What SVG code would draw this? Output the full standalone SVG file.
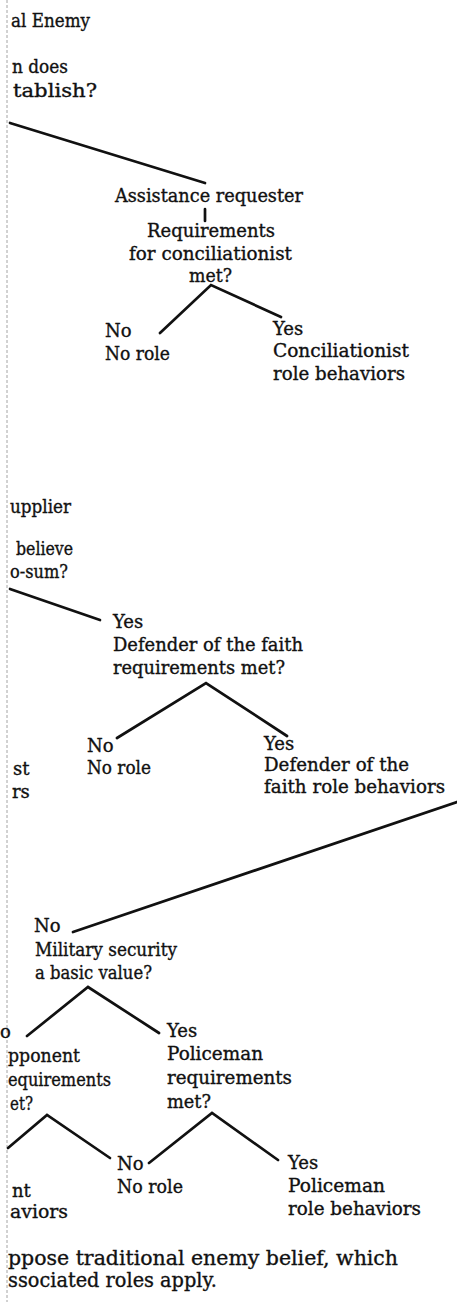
<svg xmlns="http://www.w3.org/2000/svg" width="457" height="1302" viewBox="0 0 457 1302">
<style>
.t{font-family:"DejaVu Serif","Liberation Serif",serif;font-size:18px;fill:#111;stroke:#111;stroke-width:0.35}
.c{font-size:20px}
.e{stroke:#111;stroke-width:2.7;fill:none;stroke-linecap:round;stroke-linejoin:miter}
.g{stroke:#9a9a9a;stroke-width:0.9;stroke-dasharray:3 2;fill:none}
</style>
<rect width="457" height="1302" fill="#fff"/>
<line class="g" x1="7" y1="0" x2="7" y2="1302"/>
<g id="connectors">
<path class="e" d="M10,123 L205,183"/>
<path class="e" d="M205,209 L205,221"/>
<path class="e" d="M160,333 L211,285 L281,317"/>
<path class="e" d="M10,589 L100,620"/>
<path class="e" d="M117,738 L206,683 L287,736"/>
<path class="e" d="M457,802 L73,932"/>
<path class="e" d="M27,1036 L88,987 L159,1033"/>
<path class="e" d="M8,1148 L47,1115 L110,1158"/>
<path class="e" d="M149,1163 L212,1113 L278,1160"/>
</g>
<g id="n-title"><text class="t" x="11" y="27" textLength="79" lengthAdjust="spacingAndGlyphs">al Enemy</text></g>
<g id="n-question"><text class="t" x="12" y="73" textLength="56" lengthAdjust="spacingAndGlyphs">n does</text><text class="t" x="13" y="97" textLength="84" lengthAdjust="spacingAndGlyphs">tablish?</text></g>
<g id="n-assistance"><text class="t" x="115" y="202" textLength="188" lengthAdjust="spacingAndGlyphs">Assistance requester</text></g>
<g id="n-concil-req"><text class="t" x="147" y="237" textLength="128" lengthAdjust="spacingAndGlyphs">Requirements</text><text class="t" x="129" y="260" textLength="163" lengthAdjust="spacingAndGlyphs">for conciliationist</text><text class="t" x="189" y="282" textLength="43" lengthAdjust="spacingAndGlyphs">met?</text></g>
<g id="n-concil-no"><text class="t" x="105" y="337">No</text><text class="t" x="105" y="360" textLength="65" lengthAdjust="spacingAndGlyphs">No role</text></g>
<g id="n-concil-yes"><text class="t" x="273" y="335">Yes</text><text class="t" x="273" y="357" textLength="136" lengthAdjust="spacingAndGlyphs">Conciliationist</text><text class="t" x="273" y="380" textLength="132" lengthAdjust="spacingAndGlyphs">role behaviors</text></g>
<g id="n-supplier"><text class="t" x="10" y="513" textLength="61" lengthAdjust="spacingAndGlyphs">upplier</text><text class="t" x="16" y="555" textLength="57" lengthAdjust="spacingAndGlyphs">believe</text><text class="t" x="10" y="578" textLength="58" lengthAdjust="spacingAndGlyphs">o-sum?</text></g>
<g id="n-defender-req"><text class="t" x="113" y="628">Yes</text><text class="t" x="113" y="651" textLength="190" lengthAdjust="spacingAndGlyphs">Defender of the faith</text><text class="t" x="113" y="674" textLength="172" lengthAdjust="spacingAndGlyphs">requirements met?</text></g>
<g id="n-defender-no"><text class="t" x="87" y="752">No</text><text class="t" x="87" y="774" textLength="64" lengthAdjust="spacingAndGlyphs">No role</text></g>
<g id="n-defender-yes"><text class="t" x="264" y="750">Yes</text><text class="t" x="264" y="771" textLength="145" lengthAdjust="spacingAndGlyphs">Defender of the</text><text class="t" x="264" y="793" textLength="181" lengthAdjust="spacingAndGlyphs">faith role behaviors</text></g>
<g id="n-left-mid"><text class="t" x="13" y="775">st</text><text class="t" x="12" y="798">rs</text></g>
<g id="n-military"><text class="t" x="34" y="932">No</text><text class="t" x="35" y="956" textLength="142" lengthAdjust="spacingAndGlyphs">Military security</text><text class="t" x="35" y="979" textLength="117" lengthAdjust="spacingAndGlyphs">a basic value?</text></g>
<g id="n-opponent"><text class="t" x="0" y="1038" font-size="14">o</text><text class="t" x="8" y="1062" textLength="72" lengthAdjust="spacingAndGlyphs">pponent</text><text class="t" x="8" y="1086" textLength="103" lengthAdjust="spacingAndGlyphs">equirements</text><text class="t" x="10" y="1110" textLength="23" lengthAdjust="spacingAndGlyphs">et?</text></g>
<g id="n-policeman-req"><text class="t" x="167" y="1037">Yes</text><text class="t" x="167" y="1060" textLength="96" lengthAdjust="spacingAndGlyphs">Policeman</text><text class="t" x="167" y="1084" textLength="125" lengthAdjust="spacingAndGlyphs">requirements</text><text class="t" x="167" y="1108" textLength="44" lengthAdjust="spacingAndGlyphs">met?</text></g>
<g id="n-opponent-yes"><text class="t" x="12" y="1197">nt</text><text class="t" x="10" y="1218" textLength="58" lengthAdjust="spacingAndGlyphs">aviors</text></g>
<g id="n-norole"><text class="t" x="117" y="1170">No</text><text class="t" x="117" y="1193" textLength="66" lengthAdjust="spacingAndGlyphs">No role</text></g>
<g id="n-policeman-yes"><text class="t" x="288" y="1169">Yes</text><text class="t" x="288" y="1192" textLength="97" lengthAdjust="spacingAndGlyphs">Policeman</text><text class="t" x="288" y="1215" textLength="133" lengthAdjust="spacingAndGlyphs">role behaviors</text></g>
<g id="caption"><text class="t c" x="8" y="1265" textLength="390" lengthAdjust="spacingAndGlyphs">ppose traditional enemy belief, which</text><text class="t c" x="8" y="1287" textLength="209" lengthAdjust="spacingAndGlyphs">ssociated roles apply.</text></g>
</svg>
